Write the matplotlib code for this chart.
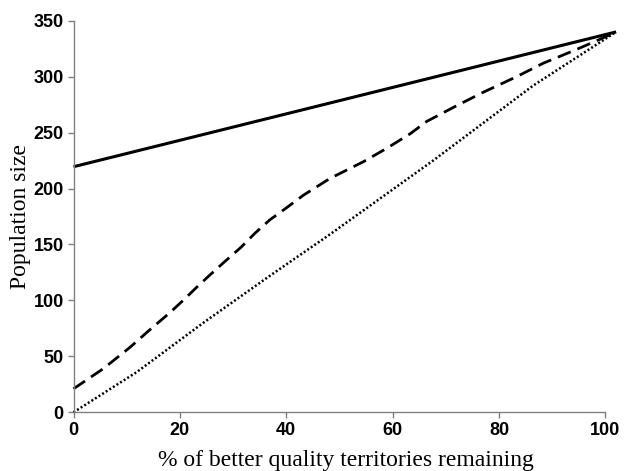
import numpy as np
import matplotlib.pyplot as plt

# dados
x_solida = [0, 102]
y_solida = [219.5, 340]

x_tracejada = [0, 5.6, 10.6, 14.4, 18.1, 20.6, 23.2, 25.7, 28.5, 31.6, 34.1, 36.9, 40.1, 43.2,
               48.2, 54.5, 58.9, 63.3, 66.4, 72, 77, 83.3, 88.3, 93.9, 98.3, 102]
y_tracejada = [21, 39, 58, 74, 89, 100, 112, 123, 135, 148, 160, 172, 183, 194,
               209, 224, 236, 249, 260, 274, 286, 300, 312, 323, 332, 340]

x_pontilhada = [0, 11.9, 24.4, 36.9, 48.2, 67.6, 86.4, 102]
y_pontilhada = [0, 36, 80, 122, 159, 225, 292, 340]

xticks = [0, 20, 40, 60, 80, 100]
yticks = [0, 50, 100, 150, 200, 250, 300, 350]

fig = plt.figure(figsize=(6.25, 4.71), dpi=100)
ax = fig.add_axes([0.1176, 0.1246, 0.8724, 0.8314])

ax.plot(x_solida, y_solida, color='black', lw=2.2, solid_capstyle='butt', clip_on=False)
ax.plot(x_tracejada, y_tracejada, color='black', lw=2.0, dashes=(5, 2.6), clip_on=False)
ax.plot(x_pontilhada, y_pontilhada, color='black', lw=1.8, dashes=(0.8, 0.9), clip_on=False)

ax.set_xlim(0, 102.5)
ax.set_ylim(0, 350)
ax.spines['top'].set_visible(False)
ax.spines['right'].set_visible(False)
ax.spines['bottom'].set_bounds(0, 100)
for s in ['left', 'bottom']:
    ax.spines[s].set_color('#808080')
    ax.spines[s].set_linewidth(1.0)

ax.set_xticks(xticks)
ax.set_yticks(yticks)
ax.tick_params(direction='out', length=4, width=1, color='#808080', pad=3)
for lab in ax.get_xticklabels() + ax.get_yticklabels():
    lab.set_family('Liberation Sans')
    lab.set_fontweight('bold')
    lab.set_fontsize(13)

ax.set_xlabel('% of better quality territories remaining', family='Liberation Serif', fontsize=17, labelpad=8)
ax.set_ylabel('Population size', family='Liberation Serif', fontsize=17, labelpad=2)

fig.savefig('out.png', dpi=100)
